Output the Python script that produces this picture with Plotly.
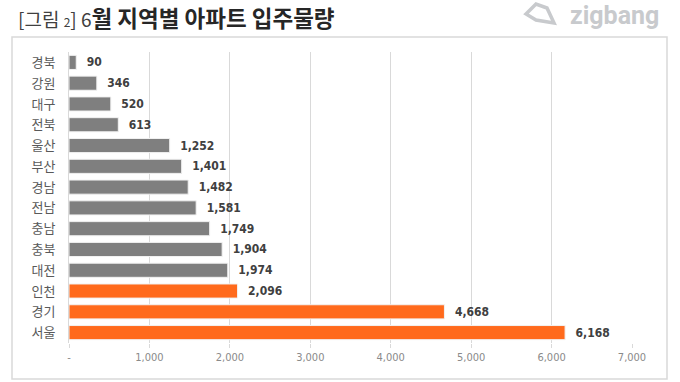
import plotly.graph_objects as go

regions = ["경북", "강원", "대구", "전북", "울산", "부산", "경남", "전남", "충남", "충북", "대전", "인천", "경기", "서울"]
supply = [90, 346, 520, 613, 1252, 1401, 1482, 1581, 1749, 1904, 1974, 2096, 4668, 6168]
highlight = ["인천", "경기", "서울"]
tick_vals = [0, 1000, 2000, 3000, 4000, 5000, 6000, 7000]
tick_text = ["-", "1,000", "2,000", "3,000", "4,000", "5,000", "6,000", "7,000"]

GRAY = "#7f7f7f"
ORANGE = "#ff6a1c"
colors = [ORANGE if r in highlight else GRAY for r in regions]

W, H = 680, 382
L, R, T, B = 69, 632, 52, 343
PW, PH = R - L, B - T

def px(x):
    return (x - L) / PW

def py(y):
    return (B - y) / PH

COND = "DejaVu Sans Condensed, Liberation Sans Narrow, sans-serif"

fig = go.Figure()
fig.add_trace(go.Bar(
    y=regions, x=supply, orientation="h",
    marker=dict(color=colors, line=dict(color="#f2f2f2", width=1)),
    width=0.68,
    text=["\u00a0\u00a0" + f"{v:,}" for v in supply],
    textposition="outside",
    textfont=dict(family=COND, size=12, color="#404040", weight="bold"),
    cliponaxis=False,
))

fig.update_layout(
    width=W, height=H,
    margin=dict(l=L, r=W - R, t=T, b=H - B, autoexpand=False),
    paper_bgcolor="white", plot_bgcolor="white",
    showlegend=False,
    xaxis=dict(range=[0, 7000], tickvals=tick_vals, ticktext=tick_text,
               showgrid=True, gridcolor="#d9d9d9", gridwidth=1,
               zeroline=False, showline=False,
               ticks="outside", ticklen=4, tickcolor="#d9d9d9",
               tickfont=dict(family=COND, size=11, color="#8a8a8a")),
    yaxis=dict(autorange="reversed", showgrid=False, showline=True, linecolor="#d9d9d9",
               ticks="", ticklabelstandoff=10,
               tickfont=dict(family="Noto Sans CJK KR", size=13, color="#595959")),
)

# outer frame
fig.add_shape(type="rect", xref="paper", yref="paper",
              x0=px(12), x1=px(667), y0=py(379), y1=py(37),
              line=dict(color="#d9d9d9", width=1.5), fillcolor="rgba(0,0,0,0)", layer="below")

fig.add_annotation(xref="paper", yref="paper",
                   x=px(16), y=py(17),
                   xanchor="left", yanchor="middle", showarrow=False,
                   text="<span style='font-size:19px;color:#404040'>[그림 </span><span style='font-size:12px;color:#404040'>2</span><span style='font-size:19px;color:#404040'>] 6</span><b>월 지역별 아파트 입주물량</b>",
                   font=dict(family="Noto Sans CJK KR", size=22.5, color="#262626"))

fig.add_annotation(xref="paper", yref="paper",
                   x=px(661), y=py(15),
                   xanchor="right", yanchor="middle", showarrow=False,
                   text="<b>zigbang</b>",
                   font=dict(family="Roboto, sans-serif", size=25, color="#c8cacd"))

# logo glyph (approximate)
pts = [(526, 14), (536, 4), (547, 8), (554, 23), (536, 20)]
path = "M " + " L ".join(f"{px(x)} {py(y)}" for x, y in pts) + " Z"
fig.add_shape(type="path", xref="paper", yref="paper", path=path,
              line=dict(color="#c8cacd", width=3.5), fillcolor="rgba(0,0,0,0)")

fig.write_html("out.html", config={"displayModeBar": False},
               post_script="document.body.style.margin='0';")
